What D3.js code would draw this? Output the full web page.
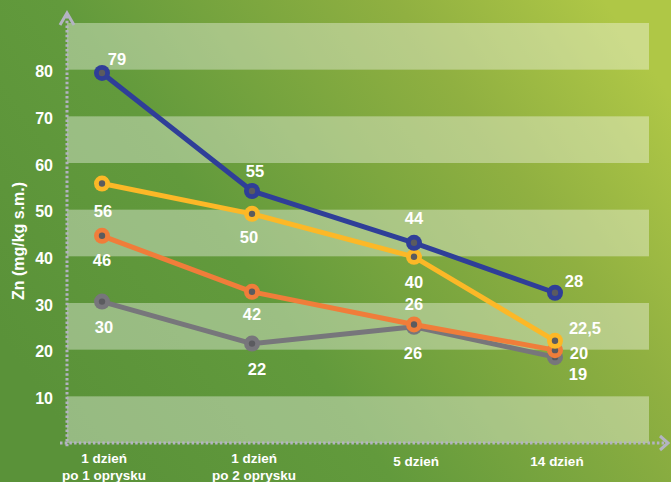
<!DOCTYPE html>
<meta charset="utf-8">
<script src="https://d3js.org/d3.v7.min.js"></script>
<style>
  body { margin: 0; }
  text { font-family: "Liberation Sans", Arial, sans-serif; font-weight: bold; fill: #fff; }
</style>
<div id="my_dataviz"></div>
<script>
  // data
  var categories = [["1 dzień", "po 1 oprysku"], ["1 dzień", "po 2 oprysku"], ["5 dzień"], ["14 dzień"]];
  var blueValues   = [79.3, 54.0, 42.9, 32.2];
  var yellowValues = [55.6, 49.1, 39.9, 21.9];
  var orangeValues = [44.4, 32.4, 25.4, 19.9];
  var grayValues   = [30.3, 21.3, 24.9, 18.4];
  var blueLabels   = ["79", "55", "44", "28"];
  var yellowLabels = ["56", "50", "40", "22,5"];
  var orangeLabels = ["46", "42", "26", "20"];
  var grayLabels   = ["30", "22", "26", "19"];
  var yTicks = [10, 20, 30, 40, 50, 60, 70, 80];

  // drawing order, bottom first; label offsets in px relative to the marker
  var series = [
    {values: grayValues,   labels: grayLabels,   color: "#77767b", off: [[2, 24], [5, 24], [-1, 25], [23, 16]]},
    {values: orangeValues, labels: orangeLabels, color: "#f07d3a", off: [[0, 23], [0, 21], [0, -21], [24, 2]]},
    {values: yellowValues, labels: yellowLabels, color: "#fcb827", off: [[1, 26], [-3, 22], [0, 24], [30, -14]]},
    {values: blueValues,   labels: blueLabels,   color: "#2f3e98", off: [[15, -15], [3, -21], [0, -26], [19, -13]]}
  ];

  var width = 671, height = 482;

  var svg = d3.select("#my_dataviz")
    .append("svg")
      .attr("width", width)
      .attr("height", height);

  var defs = svg.append("defs");
  var grad = defs.append("linearGradient")
    .attr("id", "bg")
    .attr("x1", "0").attr("y1", "0.7").attr("x2", "1").attr("y2", "0.2");
  grad.append("stop").attr("offset", "0").attr("stop-color", "#5a9239");
  grad.append("stop").attr("offset", "0.35").attr("stop-color", "#629a3c");
  grad.append("stop").attr("offset", "0.75").attr("stop-color", "#90b041");
  grad.append("stop").attr("offset", "1").attr("stop-color", "#afc746");

  svg.append("rect")
    .attr("width", width)
    .attr("height", height)
    .attr("fill", "url(#bg)");

  // scales
  var x = d3.scaleLinear()
    .domain([0, 1, 2, 3])
    .range([102, 252, 414, 555]);

  var y = d3.scaleLinear()
    .domain([0, 90])
    .range([443, 23]);

  // light bands
  svg.append("g")
    .selectAll("rect")
    .data([0, 20, 40, 60, 80])
    .enter().append("rect")
      .attr("x", 67)
      .attr("width", 649 - 67)
      .attr("y", function(d) { return y(d + 10); })
      .attr("height", function(d) { return y(d) - y(d + 10); })
      .attr("fill", "#fff")
      .attr("fill-opacity", 0.37);

  // axes (dotted lines with arrow heads)
  var axisColor = "#b3b3c2";
  svg.append("line")
    .attr("x1", 67).attr("x2", 67)
    .attr("y1", 16).attr("y2", 447)
    .attr("stroke", axisColor)
    .attr("stroke-width", 3)
    .attr("stroke-dasharray", "2.5,2.2");
  svg.append("path")
    .attr("d", "M60,25L67,13L74,25")
    .attr("fill", "none")
    .attr("stroke", axisColor)
    .attr("stroke-width", 3);

  svg.append("line")
    .attr("x1", 60).attr("x2", 664)
    .attr("y1", y(0)).attr("y2", y(0))
    .attr("stroke", axisColor)
    .attr("stroke-width", 3)
    .attr("stroke-dasharray", "2.5,2.2");
  svg.append("path")
    .attr("d", "M660,436L668,443L660,450")
    .attr("fill", "none")
    .attr("stroke", axisColor)
    .attr("stroke-width", 3);

  // y tick labels
  svg.append("g")
    .selectAll("text")
    .data(yTicks)
    .enter().append("text")
      .attr("x", 53)
      .attr("y", function(d) { return y(d) + 2; })
      .attr("text-anchor", "end")
      .attr("dominant-baseline", "central")
      .style("font-size", "16px")
      .text(function(d) { return d; });

  // y title
  svg.append("text")
    .attr("transform", "translate(24,241) rotate(-90)")
    .attr("text-anchor", "middle")
    .style("font-size", "16px")
    .text("Zn (mg/kg s.m.)");

  // x labels
  var xl = svg.append("g")
    .selectAll("text")
    .data(categories)
    .enter().append("text")
      .attr("text-anchor", "middle")
      .style("font-size", "13.5px")
      .attr("transform", function(d, i) {
        return "translate(" + (x(i) + 2) + "," + (d.length > 1 ? 463 : 466) + ")";
      });
  xl.selectAll("tspan")
    .data(function(d) { return d; })
    .enter().append("tspan")
      .attr("x", 0)
      .attr("dy", function(d, i) { return i ? 17 : 0; })
      .text(function(d) { return d; });

  // lines and markers
  var line = d3.line()
    .x(function(d, i) { return x(i); })
    .y(function(d) { return y(d); });

  series.forEach(function(s) {
    var g = svg.append("g");
    g.append("path")
      .datum(s.values)
      .attr("d", line)
      .attr("fill", "none")
      .attr("stroke", s.color)
      .attr("stroke-width", 5)
      .attr("stroke-linejoin", "round");
    g.selectAll("circle.m")
      .data(s.values)
      .enter().append("circle")
        .attr("class", "m")
        .attr("cx", function(d, i) { return x(i); })
        .attr("cy", function(d) { return y(d); })
        .attr("r", 8)
        .attr("fill", s.color);
    g.selectAll("circle.c")
      .data(s.values)
      .enter().append("circle")
        .attr("class", "c")
        .attr("cx", function(d, i) { return x(i); })
        .attr("cy", function(d) { return y(d); })
        .attr("r", 3.2)
        .attr("fill", "#5b5b5f");
  });

  // value labels on top
  series.forEach(function(s) {
    svg.append("g")
      .selectAll("text")
      .data(s.values)
      .enter().append("text")
        .attr("x", function(d, i) { return x(i) + s.off[i][0]; })
        .attr("y", function(d, i) { return y(d) + s.off[i][1] + 1; })
        .attr("text-anchor", "middle")
        .attr("dominant-baseline", "central")
        .style("font-size", "16.5px")
        .text(function(d, i) { return s.labels[i]; });
  });
</script>
